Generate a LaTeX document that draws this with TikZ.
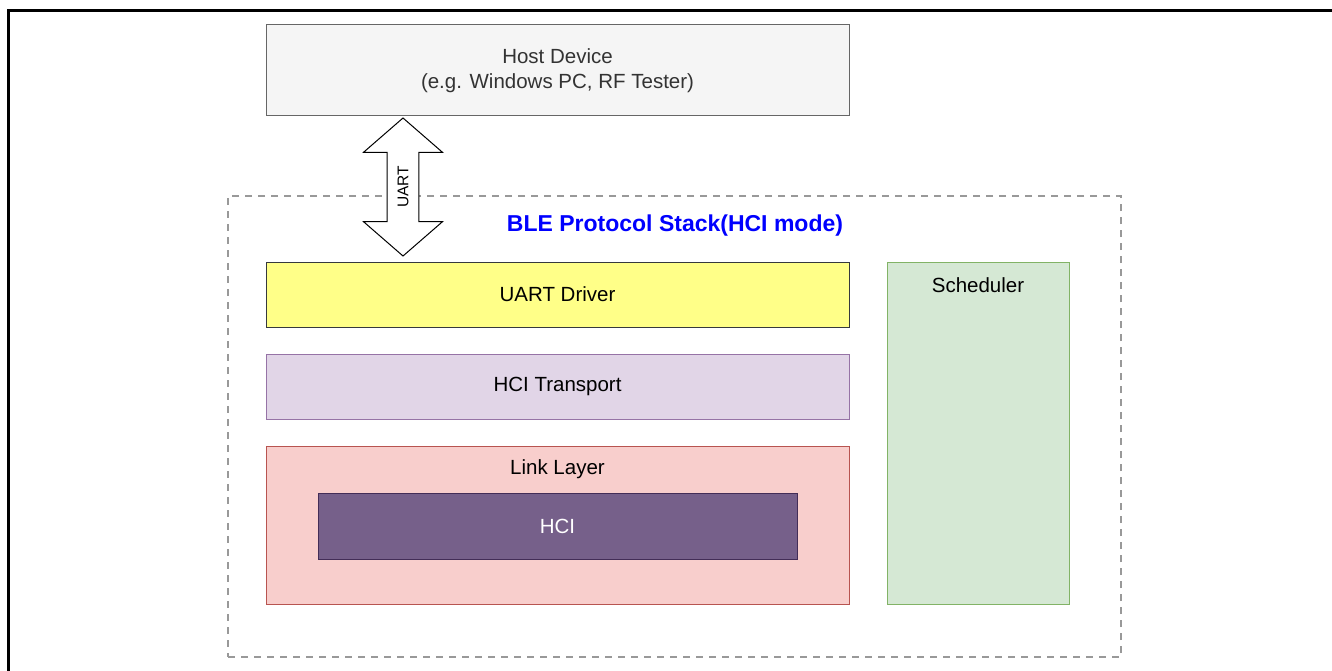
\documentclass[tikz,border=0pt]{standalone}
\usepackage{fontspec}
\setmainfont{Liberation Sans}
\usepackage{tikz}
\usetikzlibrary{shapes.arrows}
\definecolor{hostfill}{HTML}{F5F5F5}
\definecolor{hostline}{HTML}{666666}
\definecolor{hosttext}{HTML}{333333}
\definecolor{drvfill}{HTML}{FFFF88}
\definecolor{drvline}{HTML}{36393D}
\definecolor{trfill}{HTML}{E1D5E7}
\definecolor{trline}{HTML}{9673A6}
\definecolor{llfill}{HTML}{F8CECC}
\definecolor{llline}{HTML}{B85450}
\definecolor{hcifill}{HTML}{76608A}
\definecolor{hciline}{HTML}{432D57}
\definecolor{schfill}{HTML}{D5E8D4}
\definecolor{schline}{HTML}{82B366}
\definecolor{stackline}{HTML}{999999}

\begin{document}
\begin{tikzpicture}[x=1pt,y=-1pt,line width=1pt,
                    font=\fontsize{20.5}{24.5}\selectfont]
  \tikzstyle{layer}=[rectangle,draw,inner sep=0pt,minimum width=583pt,minimum height=65pt,align=center]
  \tikzstyle{lbl}=[inner sep=0pt,anchor=center]

  \useasboundingbox (0,0) rectangle (1332,671);
  \draw[line width=3pt] (8,671) -- (8,11) -- (1332,11);

  \node[layer,fill=hostfill,draw=hostline,text=hosttext,minimum height=91pt] (host) at (557.5,70.5)
        {Host Device\\(e.g. Windows PC, RF Tester)};

  \node[draw=stackline,dash pattern=on 7pt off 6pt,line width=2pt,minimum width=893pt,minimum height=461pt] (stack) at (674.5,426.5) {};
  \node[lbl,text=blue,font=\bfseries\fontsize{23}{27}\selectfont] (title) at (675,226) {BLE Protocol Stack(HCI mode)};

  \node[layer,fill=drvfill,draw=drvline]   (drv)   at (557.5,294.5) {UART Driver};
  \node[layer,fill=trfill,draw=trline]     (trans) at (557.5,386.5) {HCI Transport};
  \node[layer,fill=llfill,draw=llline,minimum height=158pt] (ll) at (557.5,525) {};
  \node[lbl] (lltext) at (557.5,469) {Link Layer};
  \node[layer,fill=hcifill,draw=hciline,text=white,minimum width=479pt,minimum height=66pt] (hci) at (557.5,526) {HCI};

  \node[layer,fill=schfill,draw=schline,minimum width=182pt,minimum height=342pt] (sched) at (978,433) {};
  \node[lbl] (schtext) at (978,285) {Scheduler};

  \node[double arrow,draw=black,fill=white,rotate=90,minimum height=138pt,minimum width=78pt,
        double arrow head extend=23.5pt,double arrow tip angle=98,inner xsep=0pt,inner ysep=10pt,
        font=\fontsize{15.5}{18}\selectfont] (uart) at (403,187) {UART};
\end{tikzpicture}
\end{document}
